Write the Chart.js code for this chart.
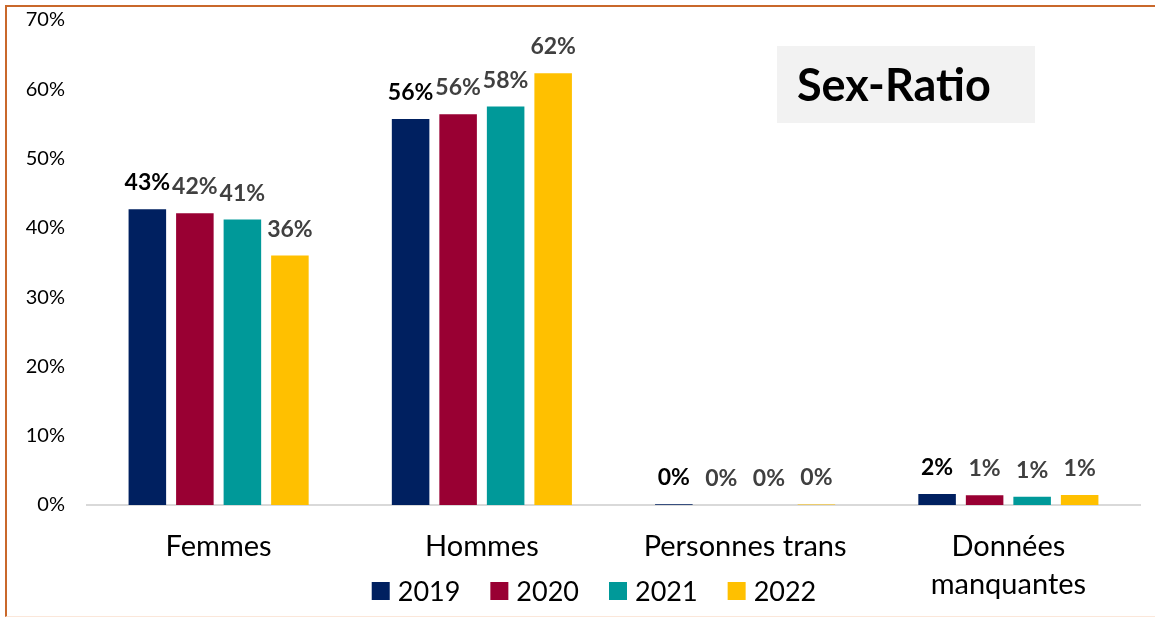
<!DOCTYPE html>
<html>
<head>
<meta charset="utf-8">
<script src="https://cdn.jsdelivr.net/npm/chart.js@4.4.1/dist/chart.umd.min.js"></script>
<style>
  html, body { margin: 0; padding: 0; background: #fff; }
  #frame {
    position: absolute; left: 5px; top: 5px; width: 1200px; height: 609px;
    border-left: 2px solid #c9682b; border-top: 2px solid #c9682b;
    border-bottom: 1px solid #fbe7da;
  }
  #wrap { position: absolute; left: 0; top: 0; width: 1155px; height: 617px; }
</style>
</head>
<body>
<div id="frame"></div>
<div id="wrap"><canvas id="chart" width="1155" height="617"></canvas></div>
<script>
'use strict';
let categories = ['Femmes', 'Hommes', 'Personnes trans', ['Données', 'manquantes']];
let years = ['2019', '2020', '2021', '2022'];
let colors = ['#002060', '#990033', '#009999', '#ffc000'];
let v2019 = [42.7, 55.7, 0.1, 1.6];
let v2020 = [42.1, 56.4, 0.0, 1.4];
let v2021 = [41.2, 57.5, 0.0, 1.2];
let v2022 = [36.0, 62.3, 0.08, 1.45];
let yTicks = [0, 10, 20, 30, 40, 50, 60, 70];
let titleText = 'Sex-Ratio';

let font = 'Lato, "Liberation Sans", sans-serif';
let series = [v2019, v2020, v2021, v2022];

let dataLabels = {
    id: 'dataLabels',
    afterDatasetsDraw(chart) {
        let ctx = chart.ctx;
        ctx.save();
        ctx.font = 'bold 23px ' + font;
        ctx.textAlign = 'center';
        ctx.textBaseline = 'alphabetic';
        chart.data.datasets.forEach((ds, i) => {
            ctx.fillStyle = i === 0 ? '#000000' : '#404040';
            chart.getDatasetMeta(i).data.forEach((bar, j) => {
                ctx.fillText(Math.round(ds.data[j]) + '%', bar.x, bar.y - 19);
            });
        });
        ctx.restore();
    }
};

let titleBox = {
    id: 'titleBox',
    afterDraw(chart) {
        let ctx = chart.ctx;
        ctx.save();
        ctx.fillStyle = '#f2f2f2';
        ctx.fillRect(777, 46, 258, 77);
        ctx.fillStyle = '#000000';
        ctx.font = 'bold 45px ' + font;
        ctx.textBaseline = 'middle';
        ctx.textAlign = 'left';
        ctx.fillText(titleText, 797, 86);
        ctx.restore();
    }
};

let legendBox = {
    id: 'legendBox',
    afterDraw(chart) {
        let ctx = chart.ctx;
        ctx.save();
        ctx.font = '27px ' + font;
        ctx.textBaseline = 'middle';
        let box = 18, gap = 8, space = 30;
        let items = chart.data.datasets.map(ds => ({ text: ds.label, color: ds.backgroundColor }));
        let total = items.reduce((s, it) => s + box + gap + ctx.measureText(it.text).width, 0) + space * (items.length - 1);
        let x = 594 - total / 2;
        let y = chart.chartArea.bottom + 86;
        items.forEach(it => {
            ctx.fillStyle = it.color;
            ctx.fillRect(x, y - box / 2, box, box);
            ctx.fillStyle = '#000000';
            ctx.fillText(it.text, x + box + gap, y + 1);
            x += box + gap + ctx.measureText(it.text).width + space;
        });
        ctx.restore();
    }
};

let config = {
    type: 'bar',
    data: {
        labels: categories,
        datasets: years.map((y, i) => ({
            label: y,
            data: series[i],
            backgroundColor: colors[i],
            categoryPercentage: 0.722,
            barPercentage: 0.79
        }))
    },
    options: {
        responsive: false,
        animation: false,
        layout: { padding: { top: 20, right: 15, left: 0, bottom: 0 } },
        plugins: {
            legend: { display: false },
            tooltip: { enabled: false }
        },
        scales: {
            x: {
                grid: { display: false, drawTicks: false },
                border: { display: true, color: '#d9d9d9', width: 2 },
                ticks: {
                    color: '#000000',
                    font: { family: font, size: 29, lineHeight: 1.3 },
                    padding: 23,
                    maxRotation: 0
                },
                afterFit(scale) {
                    scale.height = 112;
                    scale.paddingLeft = 0;
                    scale.paddingRight = 0;
                }
            },
            y: {
                min: 0,
                max: 70,
                grid: { display: false, drawTicks: false },
                border: { display: false },
                afterBuildTicks(scale) { scale.ticks = yTicks.map(v => ({ value: v })); },
                ticks: {
                    color: '#000000',
                    font: { family: font, size: 20 },
                    padding: 22,
                    callback: v => v + '%'
                },
                afterFit(scale) {
                    scale.width = 87;
                    scale.paddingTop = 0;
                    scale.paddingBottom = 0;
                }
            }
        }
    },
    plugins: [dataLabels, titleBox, legendBox]
};

let chart = new Chart(document.getElementById('chart'), config);
</script>
</body>
</html>
